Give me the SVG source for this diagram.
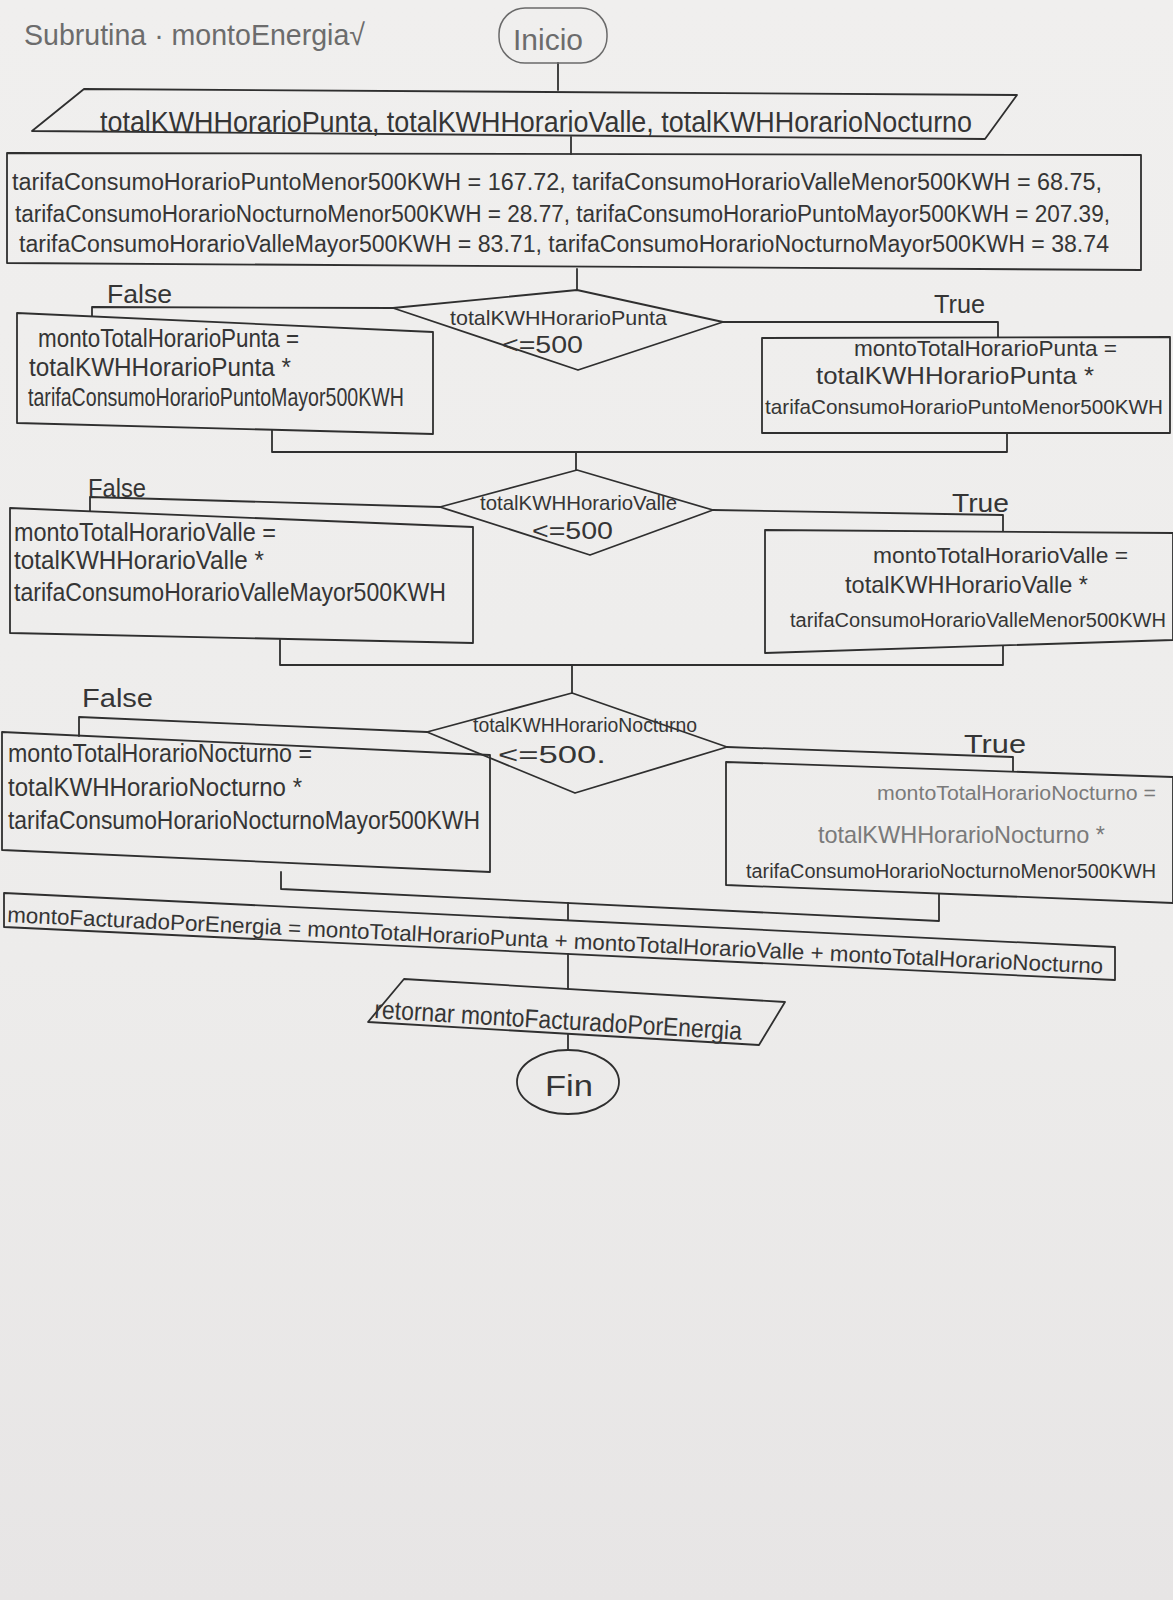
<svg xmlns="http://www.w3.org/2000/svg" width="1173" height="1600" viewBox="0 0 1173 1600">
  <defs>
    <linearGradient id="paper" x1="0" y1="0" x2="0" y2="1">
      <stop offset="0" stop-color="#f0efee"/>
      <stop offset="0.6" stop-color="#edeceb"/>
      <stop offset="1" stop-color="#e7e5e5"/>
    </linearGradient>
    <style>
      .ink { fill: none; stroke: #2f2f2f; stroke-width: 1.8; stroke-linejoin: round; stroke-linecap: round; }
      .soft { fill: none; stroke: #6a6a6a; stroke-width: 1.5; }
      .t { font-family: "Liberation Sans", Arial, sans-serif; fill: #353535; }
      .pale { fill: #6c6c6c; }
      .light { fill: #7a7a7a; }
      .s30 { font-size: 30px; }
      .s26 { font-size: 26px; }
      .s24 { font-size: 24px; }
      .s23 { font-size: 23px; }
      .s22 { font-size: 22px; }
      .s21 { font-size: 21px; }
      .s20 { font-size: 20px; }
    </style>
  </defs>

  <!-- sheet -->
  <rect x="0" y="0" width="1173" height="1600" fill="url(#paper)"/>

  <!-- heading -->
  <g id="title">
    <text class="t pale s30" x="24" y="45" textLength="341" lengthAdjust="spacingAndGlyphs">Subrutina · montoEnergia√</text>
  </g>

  <!-- connectors -->
  <g id="connectors" class="ink">
    <path d="M558,63 V90"/>
    <path d="M571,137 V154"/>
    <path d="M577,269 V290"/>
    <path d="M393,308 L92,307 V316"/>
    <path d="M723,322 L998,322 V337"/>
    <path d="M272,430 V452 H1007 V433"/>
    <path d="M576,452 V470"/>
    <path d="M440,507 L90,497 V511"/>
    <path d="M713,510 L1003,515 V531"/>
    <path d="M280,640 V665 H1003 V646"/>
    <path d="M572,665 V693"/>
    <path d="M427,732 L79,717 V736"/>
    <path d="M727,747 L1013,757 V771"/>
    <path d="M281,872 V889 L939,921 V894"/>
    <path d="M568,903 V920"/>
    <path d="M568,954 V989"/>
    <path d="M568,1034 V1050"/>
  </g>

  <g id="inicio">
    <rect class="soft" x="499" y="8" width="108" height="55" rx="26"/>
    <text class="t pale s30" x="513" y="50" textLength="70" lengthAdjust="spacingAndGlyphs">Inicio</text>
  </g>

  <g id="entrada">
    <polygon class="ink" points="84,89 1017,95 985,139 32,131"/>
    <text class="t s30" x="100" y="132" textLength="872" lengthAdjust="spacingAndGlyphs">totalKWHHorarioPunta, totalKWHHorarioValle, totalKWHHorarioNocturno</text>
  </g>

  <g id="tarifas">
    <polygon class="ink" points="7,153 1141,155 1141,270 7,263"/>
    <text class="t s23" x="12" y="190" textLength="1090" lengthAdjust="spacingAndGlyphs">tarifaConsumoHorarioPuntoMenor500KWH = 167.72, tarifaConsumoHorarioValleMenor500KWH = 68.75,</text>
    <text class="t s23" x="15" y="222" textLength="1095" lengthAdjust="spacingAndGlyphs">tarifaConsumoHorarioNocturnoMenor500KWH = 28.77, tarifaConsumoHorarioPuntoMayor500KWH = 207.39,</text>
    <text class="t s23" x="19" y="252" textLength="1090" lengthAdjust="spacingAndGlyphs">tarifaConsumoHorarioValleMayor500KWH = 83.71, tarifaConsumoHorarioNocturnoMayor500KWH = 38.74</text>
  </g>

  <g id="decision-punta">
    <polygon class="ink" points="577,290 723,322 578,370 393,308"/>
    <text class="t s21" x="450" y="325" textLength="217" lengthAdjust="spacingAndGlyphs">totalKWHHorarioPunta</text>
    <text class="t s23" x="502" y="353" textLength="81" lengthAdjust="spacingAndGlyphs">&lt;=500</text>
  </g>
  <text class="t s26" x="107" y="303" textLength="65" lengthAdjust="spacingAndGlyphs">False</text>
  <text class="t s26" x="934" y="313" textLength="51" lengthAdjust="spacingAndGlyphs">True</text>

  <g id="punta-mayor">
    <polygon class="ink" points="17,313 433,332 433,434 17,423"/>
    <text class="t s26" x="38" y="347" textLength="261" lengthAdjust="spacingAndGlyphs">montoTotalHorarioPunta =</text>
    <text class="t s26" x="29" y="376" textLength="262" lengthAdjust="spacingAndGlyphs">totalKWHHorarioPunta *</text>
    <text class="t s26" x="28" y="406" textLength="376" lengthAdjust="spacingAndGlyphs">tarifaConsumoHorarioPuntoMayor500KWH</text>
  </g>

  <g id="punta-menor">
    <polygon class="ink" points="762,338 1170,337 1170,433 762,433"/>
    <text class="t s22" x="854" y="356" textLength="263" lengthAdjust="spacingAndGlyphs">montoTotalHorarioPunta =</text>
    <text class="t s24" x="816" y="384" textLength="278" lengthAdjust="spacingAndGlyphs">totalKWHHorarioPunta *</text>
    <text class="t s21" x="765" y="414" textLength="398" lengthAdjust="spacingAndGlyphs">tarifaConsumoHorarioPuntoMenor500KWH</text>
  </g>

  <g id="decision-valle">
    <polygon class="ink" points="577,470 713,510 590,555 440,507"/>
    <text class="t s21" x="480" y="510" textLength="197" lengthAdjust="spacingAndGlyphs">totalKWHHorarioValle</text>
    <text class="t s23" x="532" y="539" textLength="81" lengthAdjust="spacingAndGlyphs">&lt;=500</text>
  </g>
  <text class="t s26" x="88" y="497" textLength="58" lengthAdjust="spacingAndGlyphs">False</text>
  <text class="t s26" x="952" y="512" textLength="57" lengthAdjust="spacingAndGlyphs">True</text>

  <g id="valle-mayor">
    <polygon class="ink" points="10,508 473,527 473,643 10,633"/>
    <text class="t s26" x="14" y="541" textLength="262" lengthAdjust="spacingAndGlyphs">montoTotalHorarioValle =</text>
    <text class="t s26" x="14" y="569" textLength="250" lengthAdjust="spacingAndGlyphs">totalKWHHorarioValle *</text>
    <text class="t s26" x="14" y="601" textLength="432" lengthAdjust="spacingAndGlyphs">tarifaConsumoHorarioValleMayor500KWH</text>
  </g>

  <g id="valle-menor">
    <polygon class="ink" points="765,530 1173,533 1173,640 765,653"/>
    <text class="t s22" x="873" y="563" textLength="255" lengthAdjust="spacingAndGlyphs">montoTotalHorarioValle =</text>
    <text class="t s24" x="845" y="593" textLength="243" lengthAdjust="spacingAndGlyphs">totalKWHHorarioValle *</text>
    <text class="t s20" x="790" y="627" textLength="376" lengthAdjust="spacingAndGlyphs">tarifaConsumoHorarioValleMenor500KWH</text>
  </g>

  <g id="decision-nocturno">
    <polygon class="ink" points="572,693 727,747 575,793 427,732"/>
    <text class="t s20" x="473" y="732" textLength="224" lengthAdjust="spacingAndGlyphs">totalKWHHorarioNocturno</text>
    <text class="t s23" x="498" y="763" textLength="108" lengthAdjust="spacingAndGlyphs">&lt;=500.</text>
  </g>
  <text class="t s26" x="82" y="707" textLength="71" lengthAdjust="spacingAndGlyphs">False</text>
  <text class="t s26" x="964" y="753" textLength="62" lengthAdjust="spacingAndGlyphs">True</text>

  <g id="nocturno-mayor">
    <polygon class="ink" points="2,732 490,755 490,872 2,850"/>
    <text class="t s26" x="8" y="762" textLength="304" lengthAdjust="spacingAndGlyphs">montoTotalHorarioNocturno =</text>
    <text class="t s26" x="8" y="796" textLength="294" lengthAdjust="spacingAndGlyphs">totalKWHHorarioNocturno *</text>
    <text class="t s26" x="8" y="829" textLength="472" lengthAdjust="spacingAndGlyphs">tarifaConsumoHorarioNocturnoMayor500KWH</text>
  </g>

  <g id="nocturno-menor">
    <polygon class="ink" points="726,762 1173,777 1173,903 726,885"/>
    <text class="t light s20" x="877" y="800" textLength="279" lengthAdjust="spacingAndGlyphs">montoTotalHorarioNocturno =</text>
    <text class="t light s24" x="818" y="843" textLength="287" lengthAdjust="spacingAndGlyphs">totalKWHHorarioNocturno *</text>
    <text class="t s20" x="746" y="878" textLength="410" lengthAdjust="spacingAndGlyphs">tarifaConsumoHorarioNocturnoMenor500KWH</text>
  </g>

  <g id="total">
    <polygon class="ink" points="4,893 1115,947 1115,980 4,927"/>
    <text class="t s22" x="7" y="922" textLength="1097" lengthAdjust="spacingAndGlyphs" transform="rotate(2.7 7 922)">montoFacturadoPorEnergia = montoTotalHorarioPunta + montoTotalHorarioValle + montoTotalHorarioNocturno</text>
  </g>

  <g id="retorno">
    <polygon class="ink" points="404,979 785,1002 759,1045 368,1022"/>
    <text class="t s26" x="374" y="1018" textLength="368" lengthAdjust="spacingAndGlyphs" transform="rotate(3.4 374 1018)">retornar montoFacturadoPorEnergia</text>
  </g>

  <g id="fin">
    <ellipse class="ink" cx="568" cy="1082" rx="51" ry="32" stroke-width="1.5"/>
    <text class="t s30" x="545" y="1096" textLength="48" lengthAdjust="spacingAndGlyphs">Fin</text>
  </g>
</svg>
